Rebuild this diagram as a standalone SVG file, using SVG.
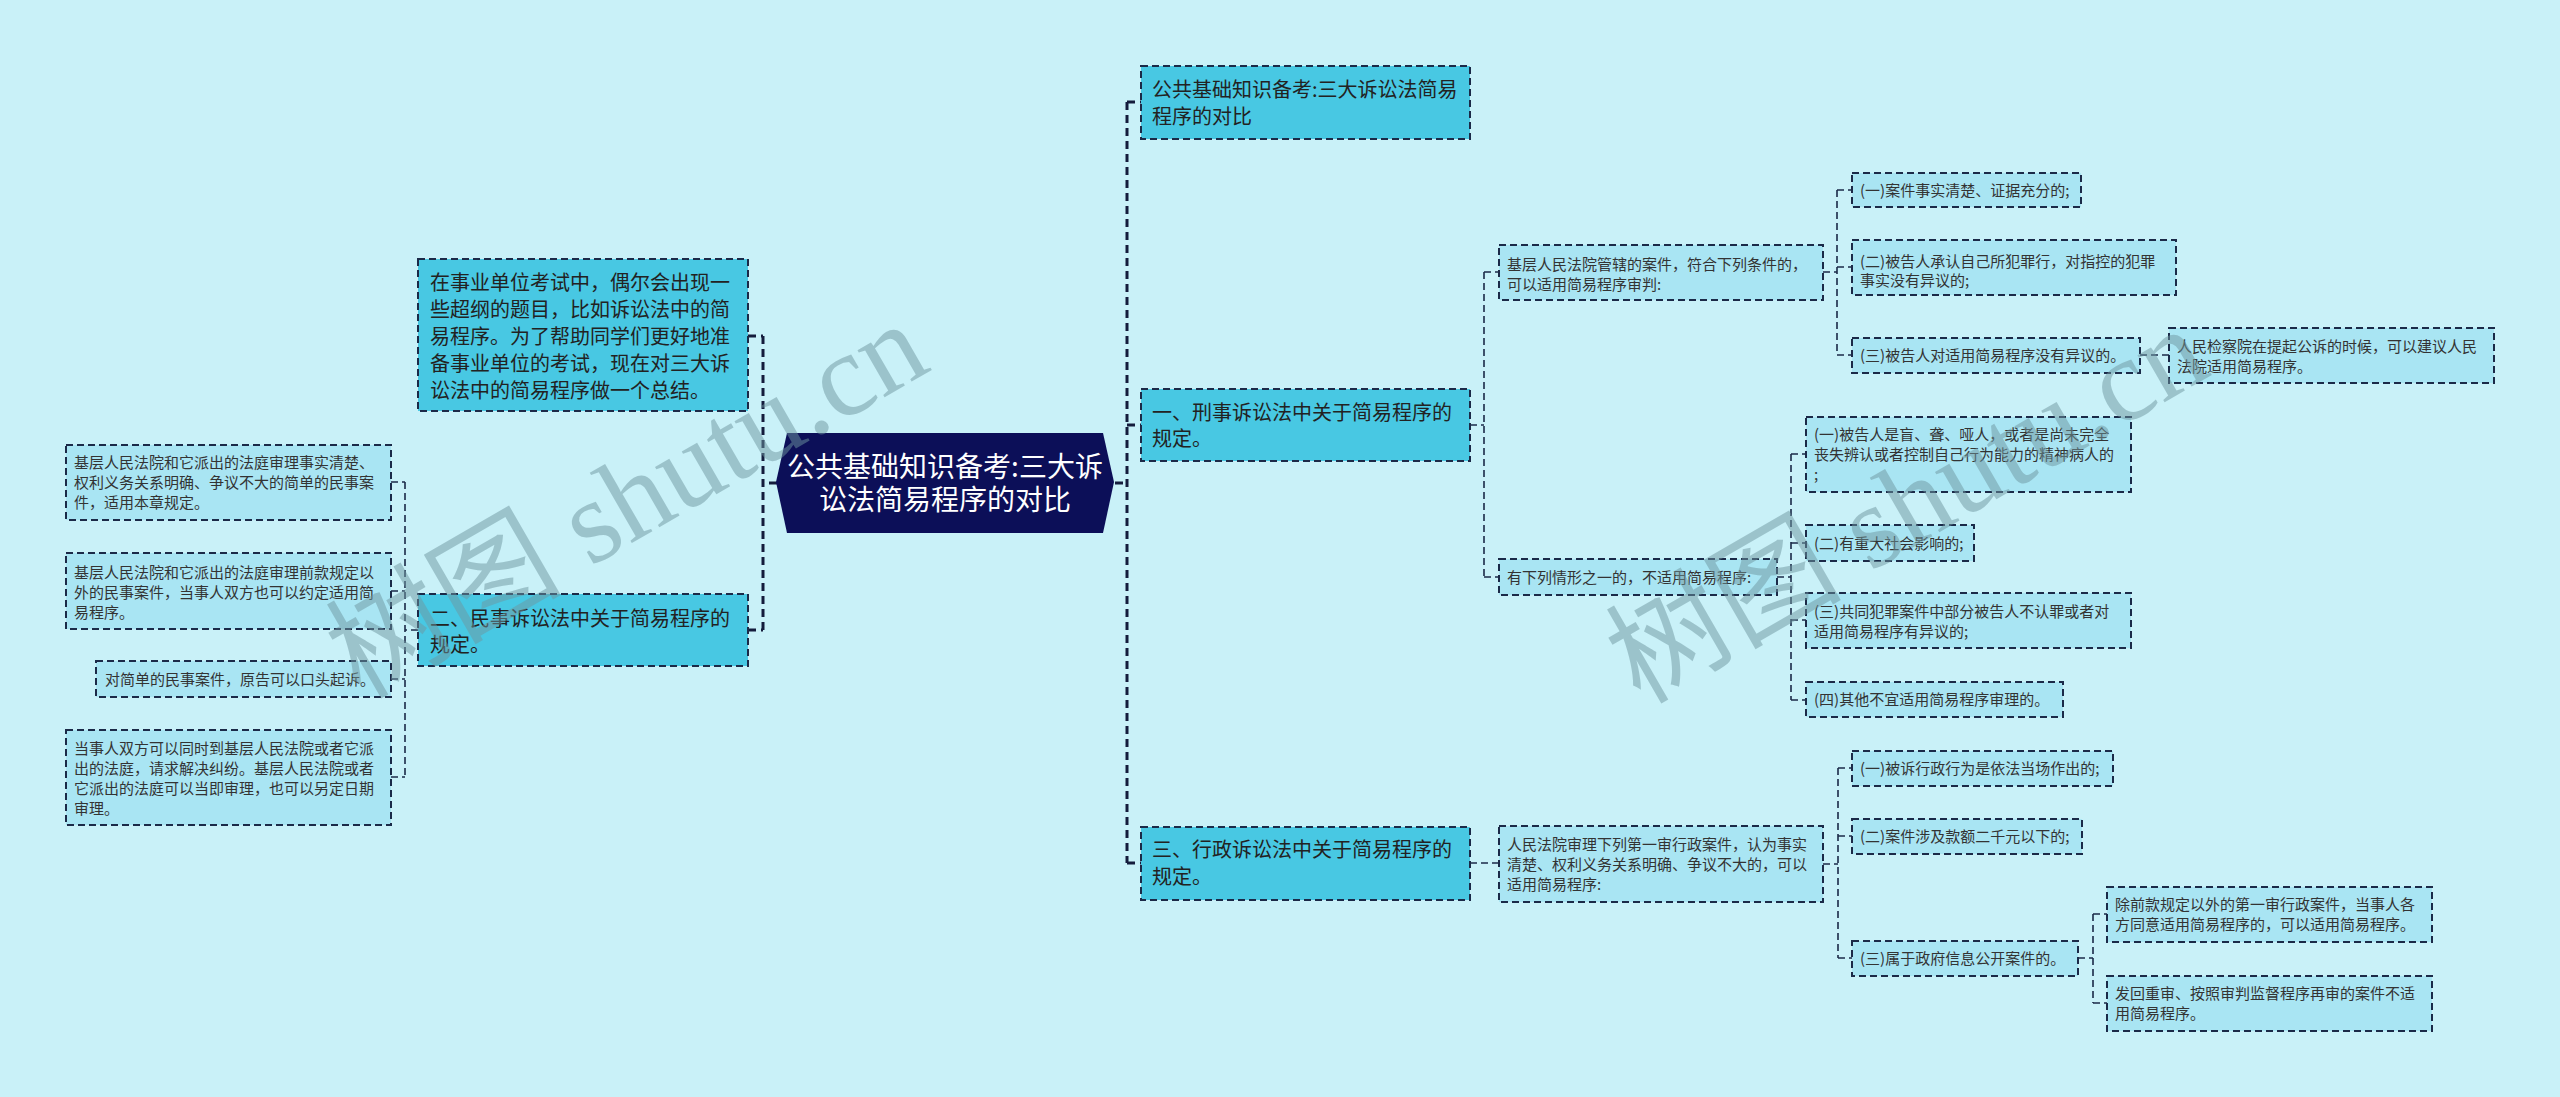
<svg xmlns="http://www.w3.org/2000/svg" width="2560" height="1097" viewBox="0 0 2560 1097">
<style>
.bg{fill:#c9f1f8}
.mid{fill:#48c8e3;stroke:#1b2a48;stroke-width:2;stroke-dasharray:7 4}
.leaf{fill:#a9e5f3;stroke:#1b2a48;stroke-width:2;stroke-dasharray:7 4}
.root{fill:#0c0f58}
.t20{font-family:"Noto Sans CJK SC","Noto Sans",sans-serif;font-size:20px;fill:#222}
.t15{font-family:"Noto Sans CJK SC","Noto Sans",sans-serif;font-size:15px;fill:#333}
.tr{font-family:"Noto Sans CJK SC","Noto Sans",sans-serif;font-size:28px;fill:#ffffff;text-anchor:middle}
.c1{fill:none;stroke:#141c3c;stroke-width:3;stroke-dasharray:8 5}
.c2{fill:none;stroke:#1b2a48;stroke-width:1.6;stroke-dasharray:7 4}
.wm{font-family:"Liberation Serif","Noto Sans CJK SC",serif;font-size:118px;fill:#6f97a0;opacity:0.5}
</style>
<rect class="bg" x="0" y="0" width="2560" height="1097"/>

<g id="connectors">
<path class="c1" d="M777,483 H763 M763,336 V630 M748,336 H763 M748,630 H763"/>
<path class="c1" d="M1115,483 H1127 M1127,102 V863 M1127,102 H1141 M1127,425 H1141 M1127,863 H1141"/>
<path class="c2" d="M418,630 H405 M405,482 V777 M391,482 H405 M391,591 H405 M391,679 H405 M391,777 H405"/>
<path class="c2" d="M1470,425 H1484 M1484,272 V577 M1484,272 H1499 M1484,577 H1499"/>
<path class="c2" d="M1823,272 H1837 M1837,190 V355 M1837,190 H1852 M1837,267 H1852 M1837,355 H1852"/>
<path class="c2" d="M2140,355 H2169"/>
<path class="c2" d="M1777,577 H1791 M1791,454 V700 M1791,454 H1806 M1791,543 H1806 M1791,620 H1806 M1791,700 H1806"/>
<path class="c2" d="M1470,863 H1499"/>
<path class="c2" d="M1823,864 H1838 M1838,768 V958 M1838,768 H1852 M1838,836 H1852 M1838,958 H1852"/>
<path class="c2" d="M2078,958 H2093 M2093,914 V1003 M2093,914 H2107 M2093,1003 H2107"/>
</g>

<g id="root">
<polygon class="root" points="776,482 787,433 1103,433 1114,482 1103,533 787,533"/>
<text class="tr" x="945" y="477">公共基础知识备考:三大诉</text>
<text class="tr" x="945" y="510">讼法简易程序的对比</text>
</g>

<g id="intro">
<rect class="mid" x="418" y="259" width="330" height="152"/>
<text class="t20" x="430"><tspan x="430" y="290">在事业单位考试中，偶尔会出现一</tspan><tspan x="430" y="317">些超纲的题目，比如诉讼法中的简</tspan><tspan x="430" y="344">易程序。为了帮助同学们更好地准</tspan><tspan x="430" y="371">备事业单位的考试，现在对三大诉</tspan><tspan x="430" y="398">讼法中的简易程序做一个总结。</tspan></text>
</g>

<g id="civil">
<rect class="mid" x="418" y="594" width="330" height="72"/>
<text class="t20"><tspan x="430" y="626">二、民事诉讼法中关于简易程序的</tspan><tspan x="430" y="652">规定。</tspan></text>
</g>

<g id="civil-1">
<rect class="leaf" x="66" y="445" width="325" height="75"/>
<text class="t15"><tspan x="74" y="468">基层人民法院和它派出的法庭审理事实清楚、</tspan><tspan x="74" y="488">权利义务关系明确、争议不大的简单的民事案</tspan><tspan x="74" y="508">件，适用本章规定。</tspan></text>
</g>
<g id="civil-2">
<rect class="leaf" x="66" y="553" width="325" height="76"/>
<text class="t15"><tspan x="74" y="578">基层人民法院和它派出的法庭审理前款规定以</tspan><tspan x="74" y="598">外的民事案件，当事人双方也可以约定适用简</tspan><tspan x="74" y="618">易程序。</tspan></text>
</g>
<g id="civil-3">
<rect class="leaf" x="96" y="661" width="295" height="36"/>
<text class="t15" x="105" y="685">对简单的民事案件，原告可以口头起诉。</text>
</g>
<g id="civil-4">
<rect class="leaf" x="66" y="730" width="325" height="95"/>
<text class="t15"><tspan x="74" y="754">当事人双方可以同时到基层人民法院或者它派</tspan><tspan x="74" y="774">出的法庭，请求解决纠纷。基层人民法院或者</tspan><tspan x="74" y="794">它派出的法庭可以当即审理，也可以另定日期</tspan><tspan x="74" y="814">审理。</tspan></text>
</g>

<g id="title-node">
<rect class="mid" x="1141" y="66" width="329" height="73"/>
<text class="t20"><tspan x="1152" y="97">公共基础知识备考:三大诉讼法简易</tspan><tspan x="1152" y="124">程序的对比</tspan></text>
</g>

<g id="criminal">
<rect class="mid" x="1141" y="389" width="329" height="72"/>
<text class="t20"><tspan x="1152" y="420">一、刑事诉讼法中关于简易程序的</tspan><tspan x="1152" y="446">规定。</tspan></text>
</g>

<g id="criminal-1">
<rect class="leaf" x="1499" y="245" width="324" height="55"/>
<text class="t15"><tspan x="1507" y="270">基层人民法院管辖的案件，符合下列条件的，</tspan><tspan x="1507" y="290">可以适用简易程序审判:</tspan></text>
</g>
<g id="criminal-1a">
<rect class="leaf" x="1852" y="173" width="229" height="34"/>
<text class="t15" x="1860" y="196">(一)案件事实清楚、证据充分的;</text>
</g>
<g id="criminal-1b">
<rect class="leaf" x="1852" y="240" width="324" height="55"/>
<text class="t15"><tspan x="1860" y="267">(二)被告人承认自己所犯罪行，对指控的犯罪</tspan><tspan x="1860" y="286">事实没有异议的;</tspan></text>
</g>
<g id="criminal-1c">
<rect class="leaf" x="1852" y="338" width="288" height="35"/>
<text class="t15" x="1860" y="361">(三)被告人对适用简易程序没有异议的。</text>
</g>
<g id="criminal-1c1">
<rect class="leaf" x="2169" y="328" width="325" height="55"/>
<text class="t15"><tspan x="2177" y="352">人民检察院在提起公诉的时候，可以建议人民</tspan><tspan x="2177" y="372">法院适用简易程序。</tspan></text>
</g>

<g id="criminal-2">
<rect class="leaf" x="1499" y="559" width="278" height="36"/>
<text class="t15" x="1507" y="583">有下列情形之一的，不适用简易程序:</text>
</g>
<g id="criminal-2a">
<rect class="leaf" x="1806" y="417" width="325" height="75"/>
<text class="t15"><tspan x="1814" y="440">(一)被告人是盲、聋、哑人，或者是尚未完全</tspan><tspan x="1814" y="460">丧失辨认或者控制自己行为能力的精神病人的</tspan><tspan x="1814" y="480">;</tspan></text>
</g>
<g id="criminal-2b">
<rect class="leaf" x="1806" y="525" width="168" height="36"/>
<text class="t15" x="1814" y="549">(二)有重大社会影响的;</text>
</g>
<g id="criminal-2c">
<rect class="leaf" x="1806" y="593" width="325" height="55"/>
<text class="t15"><tspan x="1814" y="617">(三)共同犯罪案件中部分被告人不认罪或者对</tspan><tspan x="1814" y="637">适用简易程序有异议的;</tspan></text>
</g>
<g id="criminal-2d">
<rect class="leaf" x="1806" y="682" width="257" height="35"/>
<text class="t15" x="1814" y="705">(四)其他不宜适用简易程序审理的。</text>
</g>

<g id="admin">
<rect class="mid" x="1141" y="827" width="329" height="73"/>
<text class="t20"><tspan x="1152" y="857">三、行政诉讼法中关于简易程序的</tspan><tspan x="1152" y="884">规定。</tspan></text>
</g>
<g id="admin-1">
<rect class="leaf" x="1499" y="826" width="324" height="76"/>
<text class="t15"><tspan x="1507" y="850">人民法院审理下列第一审行政案件，认为事实</tspan><tspan x="1507" y="870">清楚、权利义务关系明确、争议不大的，可以</tspan><tspan x="1507" y="890">适用简易程序:</tspan></text>
</g>
<g id="admin-1a">
<rect class="leaf" x="1852" y="751" width="261" height="35"/>
<text class="t15" x="1860" y="774">(一)被诉行政行为是依法当场作出的;</text>
</g>
<g id="admin-1b">
<rect class="leaf" x="1852" y="819" width="230" height="35"/>
<text class="t15" x="1860" y="842">(二)案件涉及款额二千元以下的;</text>
</g>
<g id="admin-1c">
<rect class="leaf" x="1852" y="941" width="226" height="35"/>
<text class="t15" x="1860" y="964">(三)属于政府信息公开案件的。</text>
</g>
<g id="admin-1c1">
<rect class="leaf" x="2107" y="887" width="325" height="55"/>
<text class="t15"><tspan x="2115" y="910">除前款规定以外的第一审行政案件，当事人各</tspan><tspan x="2115" y="930">方同意适用简易程序的，可以适用简易程序。</tspan></text>
</g>
<g id="admin-1c2">
<rect class="leaf" x="2107" y="976" width="325" height="55"/>
<text class="t15"><tspan x="2115" y="999">发回重审、按照审判监督程序再审的案件不适</tspan><tspan x="2115" y="1019">用简易程序。</tspan></text>
</g>

<g id="watermarks">
<text class="wm" x="360" y="700" transform="rotate(-30 360 700)">树图 shutu.cn</text>
<text class="wm" x="1640" y="705" transform="rotate(-30 1640 705)">树图 shutu.cn</text>
</g>
</svg>
